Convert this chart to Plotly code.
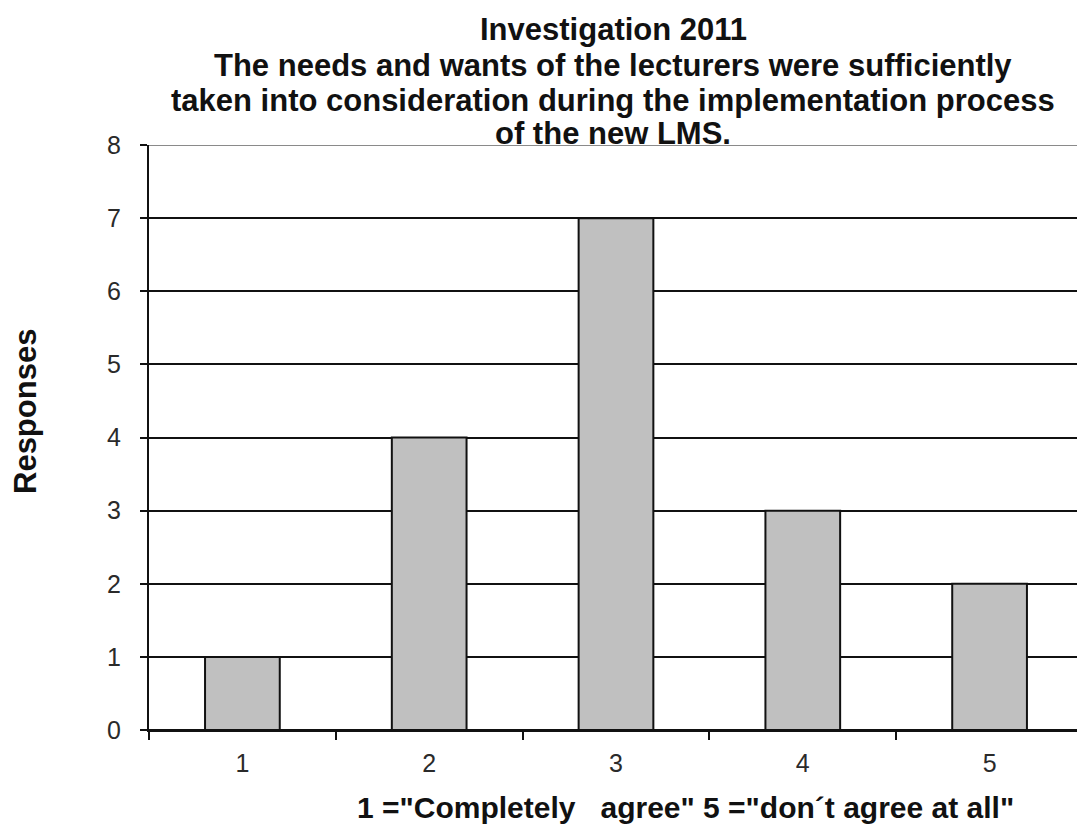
import plotly.graph_objects as go

# Survey answers on a 1-5 agreement scale
categories = ["1", "2", "3", "4", "5"]
responses = [1, 4, 7, 3, 2]

title_lines = [
    "Investigation 2011",
    "The needs and wants of the lecturers were sufficiently",
    "taken into consideration during the implementation process",
    "of the new LMS.",
]
y_title = "Responses"
x_title = "1 =\"Completely\u00a0\u00a0\u00a0agree\" 5 =\"don\u00b4t agree at all\""

W, H = 1077, 832
M_L, M_R, M_T, M_B = 149, 0, 145, 102
plot_w = W - M_L - M_R
plot_h = H - M_T - M_B
FONT = "Arial, Liberation Sans, sans-serif"
INK = "#111111"


def paper_x(px):
    """Convert a pixel column to paper x."""
    return (px - M_L) / plot_w


def paper_y(px):
    """Convert a pixel row (from the top of the figure) to paper y."""
    return (H - M_B - px) / plot_h


fig = go.Figure(
    go.Bar(
        x=categories,
        y=responses,
        width=0.4,
        marker=dict(color="#c0c0c0", line=dict(color=INK, width=2)),
    )
)

annotations = []
for text, py in zip(title_lines, [29, 65, 100, 133]):
    annotations.append(dict(
        text=f"<b>{text}</b>", x=0.5, y=paper_y(py), xref="paper", yref="paper",
        xanchor="center", yanchor="middle", showarrow=False,
        font=dict(family=FONT, size=31, color=INK),
    ))
annotations.append(dict(
    text=f"<b>{y_title}</b>", x=paper_x(25), y=paper_y(412), xref="paper", yref="paper",
    showarrow=False, textangle=-90, xanchor="center", yanchor="middle",
    font=dict(family=FONT, size=31, color=INK),
))
annotations.append(dict(
    text=f"<b>{x_title}</b>", x=paper_x(685), y=paper_y(807),
    xref="paper", yref="paper", xanchor="center", yanchor="middle", showarrow=False,
    font=dict(family=FONT, size=30, color=INK),
))

# Top border of the value range, drawn lighter than the gridlines
fig.add_shape(type="line", xref="paper", yref="y", x0=0, x1=1, y0=8, y1=8,
              line=dict(color="#8a8a8a", width=2))

fig.update_layout(
    width=W, height=H,
    margin=dict(l=M_L, r=M_R, t=M_T, b=M_B, pad=0),
    paper_bgcolor="white", plot_bgcolor="white",
    showlegend=False,
    annotations=annotations,
    xaxis=dict(
        type="category",
        range=[-0.5, 4.468],
        tickson="boundaries",
        ticks="outside", ticklen=8, tickwidth=2, tickcolor=INK,
        showline=True, linecolor=INK, linewidth=2,
        showgrid=False,
        ticklabelstandoff=10,
        tickfont=dict(family=FONT, size=25, color="#2a2a2a"),
    ),
    yaxis=dict(
        range=[0, 8], dtick=1,
        ticks="outside", ticklen=7, tickwidth=2, tickcolor=INK,
        showline=True, linecolor=INK, linewidth=2,
        showgrid=True, gridcolor=INK, gridwidth=2,
        zeroline=True, zerolinecolor=INK, zerolinewidth=2,
        ticklabelstandoff=14,
        tickfont=dict(family=FONT, size=25, color="#2a2a2a"),
    ),
)

fig.write_html("out.html")
